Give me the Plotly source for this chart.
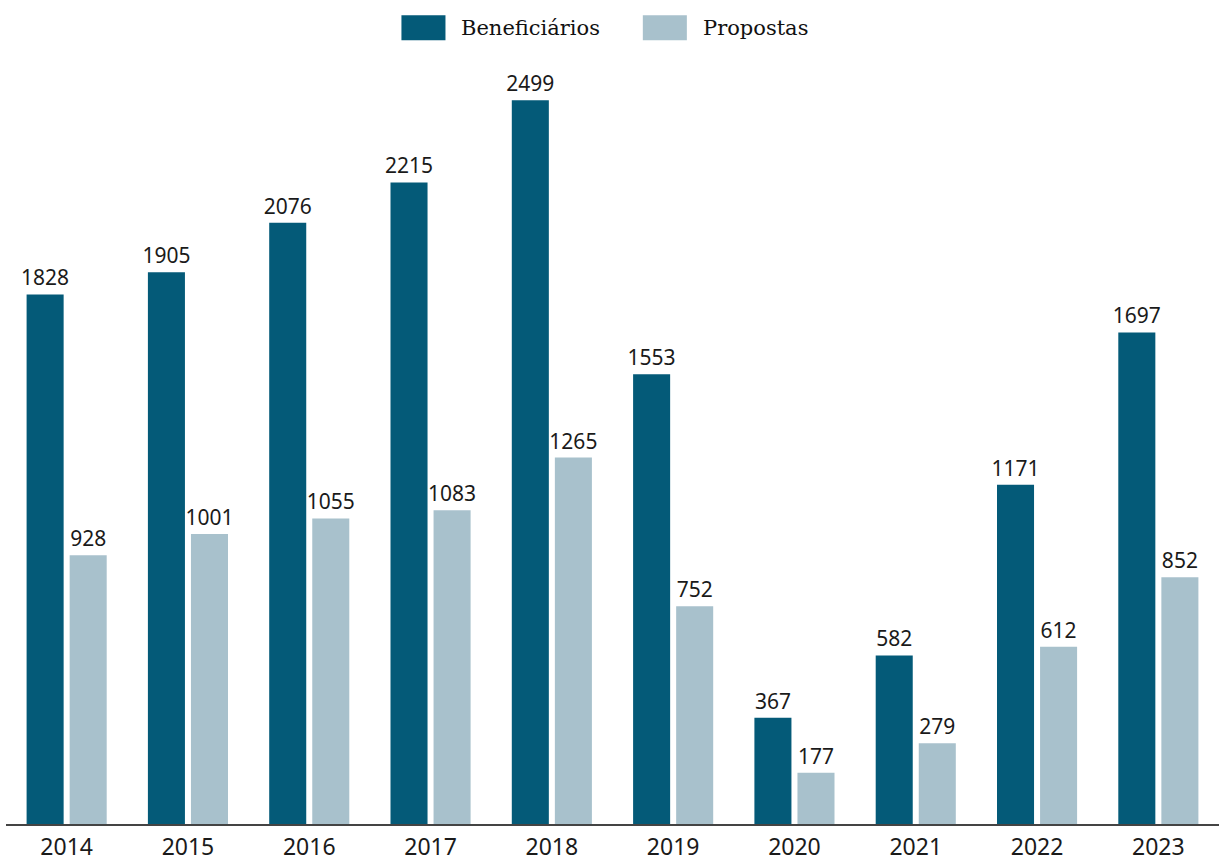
import plotly.graph_objects as go

years = ["2014", "2015", "2016", "2017", "2018", "2019", "2020", "2021", "2022", "2023"]
beneficiarios = [1828, 1905, 2076, 2215, 2499, 1553, 367, 582, 1171, 1697]
propostas = [928, 1001, 1055, 1083, 1265, 752, 177, 279, 612, 852]

series_names = ["Beneficiários", "Propostas"]
series_colors = ["#045a78", "#a8c1cc"]

label_font = dict(family="Noto Sans", size=21, color="#1a1a1a")

fig = go.Figure()
for name, values, color in zip(series_names, [beneficiarios, propostas], series_colors):
    fig.add_trace(go.Bar(
        x=years, y=values, name=name,
        marker=dict(color=color, line=dict(width=0)),
        text=values, textposition="outside", textfont=label_font,
        constraintext="none", cliponaxis=False,
    ))

# Legend drawn as boxes + labels across the top
legend_items = [(0.326, series_names[0], series_colors[0]),
                (0.525, series_names[1], series_colors[1])]
for x0, name, color in legend_items:
    fig.add_shape(type="rect", xref="paper", yref="paper",
                  x0=x0, x1=x0 + 0.0363, y0=1.0395, y1=1.0725,
                  fillcolor=color, line=dict(width=0))
    fig.add_annotation(xref="paper", yref="paper", x=x0 + 0.0478, y=1.056,
                       xanchor="left", yanchor="middle", showarrow=False,
                       text=name,
                       font=dict(family="DejaVu Serif", size=21, color="#111111"))

fig.update_layout(
    width=1219, height=861,
    margin=dict(l=6, r=0, t=70, b=37),
    paper_bgcolor="white", plot_bgcolor="white",
    barmode="group", bargap=0.29, bargroupgap=0.14,
    showlegend=False,
    xaxis=dict(
        type="category", showgrid=False, showline=True,
        linecolor="#444444", linewidth=2, ticks="",
        automargin=False, ticklabelstandoff=1,
        tickfont=dict(family="Noto Sans", size=23, color="#1a1a1a"),
    ),
    yaxis=dict(range=[0, 2603], visible=False, showgrid=False, zeroline=False),
)

fig.write_html("out.html")
